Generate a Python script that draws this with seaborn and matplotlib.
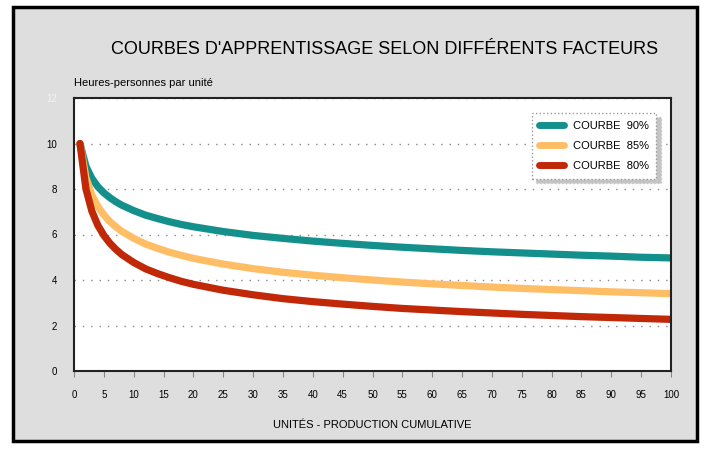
import numpy as np
import pandas as pd
import matplotlib
matplotlib.use("Agg")
import matplotlib.pyplot as plt
import seaborn as sns
from matplotlib.patches import Rectangle

# units produced (cumulative) and hours per unit
units = [1, 2, 3, 4, 5, 6, 7, 8, 10, 12, 14, 16, 18, 20, 25, 30, 35, 40, 45,
         50, 55, 60, 65, 70, 75, 80, 85, 90, 95, 100]
courbe_90 = [10.0, 9.00, 8.46, 8.10, 7.83, 7.62, 7.44, 7.29, 7.05, 6.85, 6.70,
             6.56, 6.44, 6.34, 6.13, 5.96, 5.83, 5.71, 5.61, 5.52, 5.44, 5.37,
             5.30, 5.24, 5.19, 5.14, 5.09, 5.05, 5.00, 4.97]
courbe_85 = [10.0, 8.50, 7.73, 7.23, 6.86, 6.57, 6.34, 6.14, 5.83, 5.58, 5.39,
             5.22, 5.08, 4.95, 4.70, 4.50, 4.34, 4.21, 4.10, 4.00, 3.91, 3.83,
             3.76, 3.69, 3.63, 3.58, 3.53, 3.48, 3.44, 3.40]
courbe_80 = [10.0, 8.00, 7.02, 6.40, 5.96, 5.62, 5.35, 5.12, 4.77, 4.49, 4.28,
             4.10, 3.94, 3.81, 3.55, 3.35, 3.18, 3.05, 2.94, 2.84, 2.75, 2.68,
             2.61, 2.55, 2.49, 2.44, 2.39, 2.35, 2.31, 2.27]
series_names = ["COURBE  90%", "COURBE  85%", "COURBE  80%"]
colors = ["#14908c", "#ffbe66", "#c02808"]

df = pd.concat([
    pd.DataFrame({"units": units, "heures": vals, "courbe": name})
    for name, vals in zip(series_names, [courbe_90, courbe_85, courbe_80])
])

sns.set_style("white")
plt.rcParams["font.family"] = ["Liberation Sans", "DejaVu Sans"]
plt.rcParams["text.color"] = "black"
plt.rcParams["axes.labelcolor"] = "black"
plt.rcParams["xtick.color"] = "black"
plt.rcParams["ytick.color"] = "black"

fig = plt.figure(figsize=(7.1, 4.53), dpi=100)
fig.patch.set_facecolor("white")
# grey panel with black frame, kept behind the axes
panel = Rectangle((13 / 710, 1 - 441 / 453), 684 / 710, 434 / 453,
                  transform=fig.transFigure, facecolor="#dedede",
                  edgecolor="black", linewidth=2.5, zorder=-10)
fig.add_artist(panel)

ax = fig.add_axes([74 / 710, 1 - 371 / 453, 597 / 710, 273 / 453])
ax.set_zorder(5)
ax.set_facecolor("white")

sns.lineplot(data=df, x="units", y="heures", hue="courbe", palette=colors,
             linewidth=5.2, ax=ax, solid_capstyle="round")

ax.set_xlim(0, 100)
ax.set_ylim(0, 12)
ax.set_xticks(np.arange(0, 101, 5))
ax.set_yticks(np.arange(0, 13, 2))
ax.tick_params(axis="x", length=4, color="#888888", labelsize=7, pad=10,
               direction="out", bottom=True)
ax.tick_params(axis="y", length=0, labelsize=7, pad=12)
for lbl in ax.get_yticklabels():
    if lbl.get_text() == "12":
        lbl.set_color("#f2f2f2")
ax.yaxis.grid(True, linestyle=(0, (1, 5)), color="#888888", linewidth=1)
ax.xaxis.grid(False)
for sp in ax.spines.values():
    sp.set_visible(True)
    sp.set_color("#222222")
    sp.set_linewidth(1.5)

ax.set_xlabel("UNITÉS - PRODUCTION CUMULATIVE", fontsize=8, labelpad=14)
ax.set_ylabel("")
fig.text(74 / 710, 1 - 86 / 453, "Heures-personnes par unité", fontsize=8,
         ha="left", va="baseline")
fig.text(385 / 710, 1 - 54 / 453, "COURBES D'APPRENTISSAGE SELON DIFFÉRENTS FACTEURS",
         fontsize=13, ha="center", va="baseline")

leg = ax.legend(loc="upper right", bbox_to_anchor=(0.985, 0.965), fontsize=8,
                frameon=True, fancybox=False,
                shadow={"color": "#c4c4c4", "alpha": 1, "ox": 3, "oy": -3},
                handlelength=2.2, borderpad=0.7, labelspacing=0.9,
                edgecolor="#999999", framealpha=1)
leg.get_frame().set_linestyle(":")
for line in leg.get_lines():
    line.set_linewidth(5)

fig.savefig("out.png", dpi=100)
